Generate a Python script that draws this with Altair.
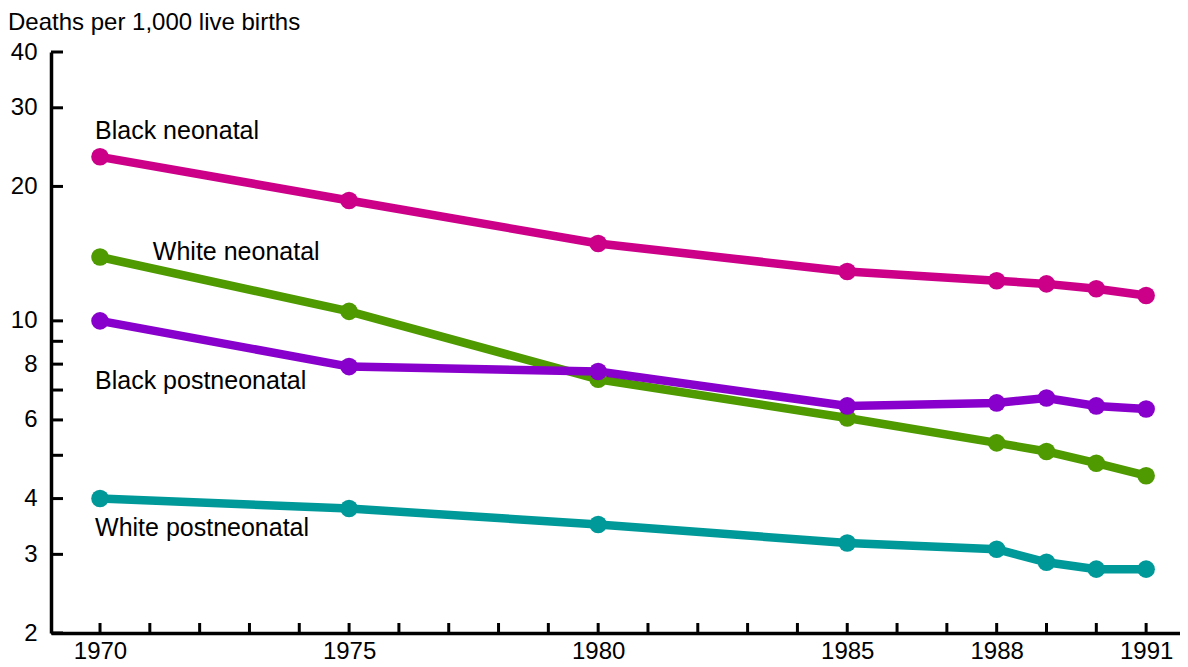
import altair as alt
import pandas as pd

# ---- data ----
years = [1970, 1975, 1980, 1985, 1988, 1989, 1990, 1991]
black_neonatal = [23.3, 18.6, 14.9, 12.9, 12.3, 12.1, 11.8, 11.4]
white_neonatal = [13.9, 10.5, 7.4, 6.06, 5.33, 5.1, 4.8, 4.5]
black_postneonatal = [10.0, 7.9, 7.7, 6.45, 6.55, 6.72, 6.45, 6.35]
white_postneonatal = [4.0, 3.8, 3.5, 3.18, 3.08, 2.88, 2.78, 2.78]

series_names = ["White postneonatal", "White neonatal", "Black postneonatal", "Black neonatal"]
series_colors = ["#009999", "#4E9A00", "#8800CC", "#CC0088"]

label_names = ["Black neonatal", "White neonatal", "Black postneonatal", "White postneonatal"]
label_years = [1969.9, 1971.06, 1969.9, 1969.9]
label_values = [26.6, 14.26, 7.33, 3.44]

title_text = "Deaths per 1,000 live births"

x_tick_labels = [1970, 1975, 1980, 1985, 1988, 1991]
x_minor_ticks = list(range(1970, 1992))
y_tick_labels = [2, 3, 4, 6, 8, 10, 20, 30, 40]
y_minor_ticks = [2, 3, 4, 5, 6, 7, 8, 9, 10, 20, 30, 40]

FONT = "Liberation Sans"
W, H = 1129, 581

rows = []
values_by_name = {
    "White postneonatal": white_postneonatal,
    "White neonatal": white_neonatal,
    "Black postneonatal": black_postneonatal,
    "Black neonatal": black_neonatal,
}
for name in series_names:
    for yr, v in zip(years, values_by_name[name]):
        rows.append({"year": yr, "value": v, "series": name})
df = pd.DataFrame(rows)

labels_df = pd.DataFrame({"name": label_names, "year": label_years, "value": label_values})
xt_df = pd.DataFrame({"year": x_minor_ticks})
yt_df = pd.DataFrame({"value": y_minor_ticks})
title_df = pd.DataFrame({"t": [title_text]})

xscale = alt.Scale(domain=[1969.016, 1991.68], nice=False, zero=False)
yscale = alt.Scale(type="log", domain=[2, 40], nice=False)
cscale = alt.Scale(domain=series_names, range=series_colors)

xaxis = alt.Axis(values=x_tick_labels, format="d", ticks=False, grid=False,
                 domain=True, domainColor="black", domainWidth=3.5,
                 labelFontSize=24, labelFont=FONT, labelColor="black",
                 labelPadding=6, title=None)
yaxis = alt.Axis(values=y_tick_labels, format="d", ticks=False, grid=False,
                 domain=True, domainColor="black", domainWidth=3.5,
                 labelFontSize=24, labelFont=FONT, labelColor="black",
                 labelPadding=14, title=None)

base = alt.Chart(df)

lines = base.mark_line(strokeWidth=8.5).encode(
    x=alt.X("year:Q", scale=xscale, axis=xaxis),
    y=alt.Y("value:Q", scale=yscale, axis=yaxis),
    color=alt.Color("series:N", scale=cscale, legend=None),
    detail="series:N",
)

points = base.mark_circle(size=310, opacity=1).encode(
    x=alt.X("year:Q", scale=xscale, axis=xaxis),
    y=alt.Y("value:Q", scale=yscale, axis=yaxis),
    color=alt.Color("series:N", scale=cscale, legend=None),
)

labels = alt.Chart(labels_df).mark_text(
    align="left", baseline="middle", fontSize=25, font=FONT, color="black"
).encode(
    x=alt.X("year:Q", scale=xscale, axis=xaxis),
    y=alt.Y("value:Q", scale=yscale, axis=yaxis),
    text="name:N",
)

title = alt.Chart(title_df).mark_text(
    align="left", baseline="alphabetic", fontSize=24, font=FONT, color="black"
).encode(
    x=alt.value(-43),
    y=alt.value(-22),
    text="t:N",
)

xticks = alt.Chart(xt_df).mark_rule(color="black", strokeWidth=3).encode(
    x=alt.X("year:Q", scale=xscale, axis=xaxis),
    y=alt.value(H),
    y2=alt.value(H - 10),
)

yticks = alt.Chart(yt_df).mark_rule(color="black", strokeWidth=3).encode(
    y=alt.Y("value:Q", scale=yscale, axis=yaxis),
    x=alt.value(0),
    x2=alt.value(12),
)

chart = alt.layer(xticks, yticks, lines, points, labels, title).properties(
    width=W,
    height=H,
    autosize=alt.AutoSizeParams(type="none"),
    padding={"left": 43, "top": 44, "right": 0, "bottom": 30},
    view=alt.ViewBackground(stroke="transparent", strokeWidth=0),
).configure_view(
    stroke="transparent", strokeWidth=0, strokeOpacity=0
).configure_axis(grid=False).configure(background="white")

chart.save("out.html", embed_options={"renderer": "svg", "actions": False})
